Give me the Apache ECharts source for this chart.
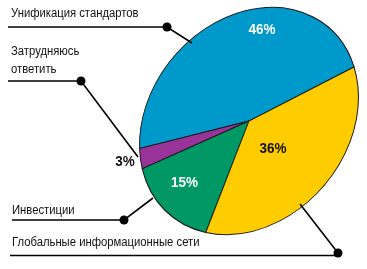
<!DOCTYPE html>
<html><head><meta charset="utf-8">
<script src="https://cdn.jsdelivr.net/npm/echarts@6/dist/echarts.min.js"></script>
<style>html,body{margin:0;padding:0;background:#fff}#c{width:367px;height:269px}</style>
</head><body><div id="c"></div>
<script>
// ---- data ----
var categories = ['Унификация стандартов', 'Затрудняюсь ответить', 'Инвестиции', 'Глобальные информационные сети'];
var values = [46, 3, 15, 36];
var valueLabels = ['46%', '3%', '15%', '36%'];

// ---- styling / layout ----
var colors = ['#0099cc', '#993399', '#009966', '#ffcc00'];
var labelColors = ['#ffffff', '#111111', '#ffffff', '#111111'];
var labelAngleShift = [17.7, 0.9, 3.7, 5.3];   // degrees from slice middle
var labelRadius = [0.80, 1.14, 0.73, 0.37];
var ell = {cx: 249, cy: 121, a: 122.8, b: 99, rot: 50, start: 27.5};
var FONT = '"Liberation Sans",Arial,sans-serif';

var total = values.reduce(function(s, v){ return s + v; }, 0);
var cum = [];
(function(){ var s = 0; for (var i = 0; i < values.length; i++) { cum.push(s); s += values[i]; } })();

function toScreen(tDeg, rho) {
  var t = tDeg * Math.PI / 180, th = ell.rot * Math.PI / 180;
  var ux = Math.cos(th), uy = -Math.sin(th), vx = Math.sin(th), vy = Math.cos(th);
  var p = ell.a * rho * Math.cos(t), q = ell.b * rho * Math.sin(t);
  return [ell.cx + p * ux + q * vx, ell.cy + p * uy + q * vy];
}

var chart = echarts.init(document.getElementById('c'), null, {renderer: 'canvas'});

function dotLine(points, dot) {
  return [
    {type: 'polyline', shape: {points: points}, style: {stroke: '#000', lineWidth: 1.6, fill: null}, z: 10},
    {type: 'circle', shape: {cx: dot[0], cy: dot[1], r: 4.5}, style: {fill: '#000'}, z: 11}
  ];
}
function txt(x, y, s) {
  return {type: 'text', x: x, y: y, scaleX: 0.94, style: {text: s, font: '12px ' + FONT, fill: '#111', textVerticalAlign: 'bottom'}, z: 12};
}

var graphics = [].concat(
  dotLine([[8, 27], [167, 27], [192, 43]], [167, 27]),
  dotLine([[8, 81], [81, 81], [138, 157]], [81, 81]),
  dotLine([[12, 220], [124, 220], [153, 198]], [124, 220]),
  [{type: 'polyline', shape: {points: [[10, 255.5], [338, 255.5]]}, style: {stroke: '#000', lineWidth: 1.3, fill: null}, z: 10}],
  dotLine([[338, 253], [300, 204]], [338, 253]),
  [
    txt(11, 20, categories[0]),
    txt(11, 58, 'Затрудняюсь'),
    txt(11, 76, 'ответить'),
    txt(12, 217, categories[2]),
    txt(12, 249, categories[3])
  ]
);

chart.setOption({
  animation: false,
  graphic: graphics,
  series: [{
    type: 'custom',
    coordinateSystem: 'none',
    data: values,
    renderItem: function(params, api) {
      var i = params.dataIndex;
      var v = api.value(0);
      var t1 = ell.start - cum[i] / total * 360;
      var t0 = t1 - v / total * 360;
      var mid = (t0 + t1) / 2 + labelAngleShift[i];
      var lp = toScreen(mid, labelRadius[i]);
      return {
        type: 'group',
        children: [
          {
            type: 'sector',
            x: ell.cx, y: ell.cy,
            rotation: ell.rot * Math.PI / 180,
            scaleX: ell.a / 100, scaleY: ell.b / 100,
            shape: {cx: 0, cy: 0, r0: 0, r: 100, startAngle: t0 * Math.PI / 180, endAngle: t1 * Math.PI / 180, clockwise: true},
            style: {fill: colors[i], stroke: '#1a1a1a', lineWidth: 1, strokeNoScale: true}
          },
          {
            type: 'text',
            x: lp[0], y: lp[1],
            scaleX: 0.9,
            style: {text: valueLabels[i], fill: labelColors[i], font: 'bold 15px ' + FONT, align: 'center', verticalAlign: 'middle'},
            z2: 5
          }
        ]
      };
    }
  }]
});
</script></body></html>
